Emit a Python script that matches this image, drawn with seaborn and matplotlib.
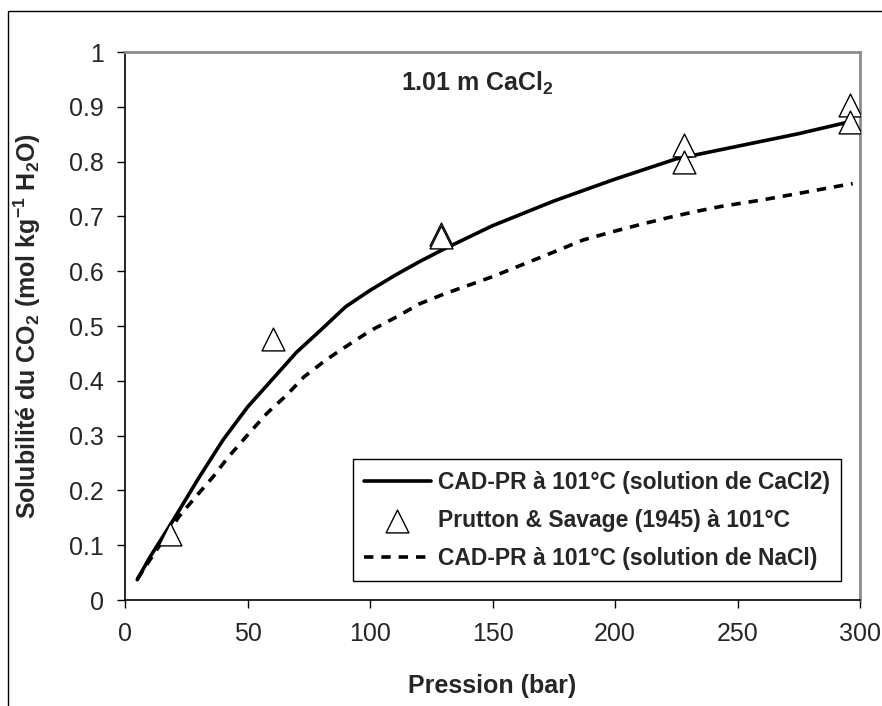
import matplotlib
matplotlib.use("Agg")
import matplotlib.pyplot as plt
from matplotlib.patches import Rectangle
import seaborn as sns

# CAD-PR model, CaCl2 brine at 101 °C
p_cacl2 = [5, 10, 20, 30, 40, 50, 60, 70, 80, 90, 100, 110, 120, 130,
           150, 175, 200, 225, 250, 275, 297]
s_cacl2 = [0.037, 0.077, 0.148, 0.222, 0.292, 0.352, 0.402, 0.452, 0.493,
           0.535, 0.565, 0.592, 0.617, 0.640, 0.683, 0.728, 0.768, 0.805,
           0.828, 0.851, 0.874]

# CAD-PR model, NaCl brine at 101 °C
p_nacl = [5, 10, 22, 29, 36, 42, 50, 58, 66, 73, 82, 90, 100, 111, 120, 130,
          150, 175, 187, 199, 211, 222, 233, 243, 260, 275, 297]
s_nacl = [0.038, 0.072, 0.152, 0.189, 0.225, 0.260, 0.301, 0.341, 0.374,
          0.407, 0.438, 0.462, 0.491, 0.517, 0.540, 0.558, 0.590, 0.635,
          0.657, 0.672, 0.686, 0.698, 0.709, 0.718, 0.730, 0.742, 0.760]

# Prutton & Savage (1945) measurements at 101 °C
p_exp = [18.5, 60.5, 129, 129, 228, 228, 296, 296]
s_exp = [0.120, 0.477, 0.668, 0.662, 0.830, 0.800, 0.903, 0.873]

x_ticks = [0, 50, 100, 150, 200, 250, 300]
y_ticks = [0, 0.1, 0.2, 0.3, 0.4, 0.5, 0.6, 0.7, 0.8, 0.9, 1]
y_tick_labels = ["0", "0.1", "0.2", "0.3", "0.4", "0.5", "0.6", "0.7",
                 "0.8", "0.9", "1"]

lbl_cacl2 = "CAD-PR à 101°C (solution de CaCl2)"
lbl_exp = "Prutton & Savage (1945) à 101°C"
lbl_nacl = "CAD-PR à 101°C (solution de NaCl)"

sns.set_theme(style="white")
plt.rcParams["font.family"] = ["Liberation Sans", "DejaVu Sans"]
plt.rcParams["mathtext.fontset"] = "custom"
plt.rcParams["mathtext.rm"] = "Liberation Sans"
plt.rcParams["mathtext.bf"] = "Liberation Sans:bold"

W, H = 882, 706
fig = plt.figure(figsize=(W / 100, H / 100), dpi=100)
ax = fig.add_axes([125 / W, 1 - 600 / H, (860 - 125) / W, (600 - 52) / H])

# outer frame around the chart area
fig.patches.append(Rectangle((8 / W, -0.2), 1.5, 1.2 - 11 / H,
                             transform=fig.transFigure, fill=False,
                             edgecolor="black", linewidth=1.0, zorder=0))

sns.lineplot(x=p_cacl2, y=s_cacl2, ax=ax, color="black", linewidth=2.6,
             label=lbl_cacl2, sort=False)
sns.scatterplot(x=p_exp, y=s_exp, ax=ax, marker="^", s=270,
                facecolor="white", edgecolor="black", linewidth=1.0,
                label=lbl_exp, zorder=4)
sns.lineplot(x=p_nacl, y=s_nacl, ax=ax, color="black", linewidth=2.6,
             label=lbl_nacl, sort=False)
ax.lines[-1].set_dashes((2.6, 2.2))

ax.set_xlim(0, 300)
ax.set_ylim(0, 1)
ax.set_xticks(x_ticks)
ax.set_xticklabels([str(v) for v in x_ticks])
ax.set_yticks(y_ticks)
ax.set_yticklabels(y_tick_labels)
ax.tick_params(axis="both", which="major", direction="out", length=6,
               width=1.0, color="black", labelsize=18,
               left=True, bottom=True)
ax.tick_params(axis="x", pad=10)
ax.tick_params(axis="y", pad=9)

for side in ("left", "bottom"):
    ax.spines[side].set_color("black")
    ax.spines[side].set_linewidth(1.2)
for side in ("top", "right"):
    ax.spines[side].set_color("#8c8c8c")
    ax.spines[side].set_linewidth(2.0)

ax.set_xlabel("Pression (bar)", fontsize=18, fontweight="bold")
ax.xaxis.label.set_va("center")
ax.xaxis.set_label_coords(0.5, (600 - 686) / 548)

ax.set_ylabel(r"Solubilité du CO$_\mathbf{2}$ (mol kg$^\mathbf{-1}$ H$_\mathbf{2}$O)",
              fontsize=18, fontweight="bold")
ax.yaxis.label.set_va("center")
ax.yaxis.set_label_coords((27 - 125) / 735, 0.5)

ax.text(0.48, 0.942, r"1.01 m CaCl$_\mathbf{2}$", transform=ax.transAxes,
        ha="center", va="center", fontsize=18, fontweight="bold")

handles, labels = ax.get_legend_handles_labels()
leg = ax.legend(handles, labels, loc="lower right",
                bbox_to_anchor=(841 / W, 1 - 581 / H),
                bbox_transform=fig.transFigure, borderaxespad=0,
                frameon=True, fancybox=False, framealpha=1,
                edgecolor="black", handlelength=2.9, handletextpad=0.3,
                labelspacing=0.65, borderpad=0.5,
                prop={"weight": "bold", "size": 16.5})
leg.get_frame().set_linewidth(1.0)

fig.savefig("out.png", dpi=100, facecolor="white")
